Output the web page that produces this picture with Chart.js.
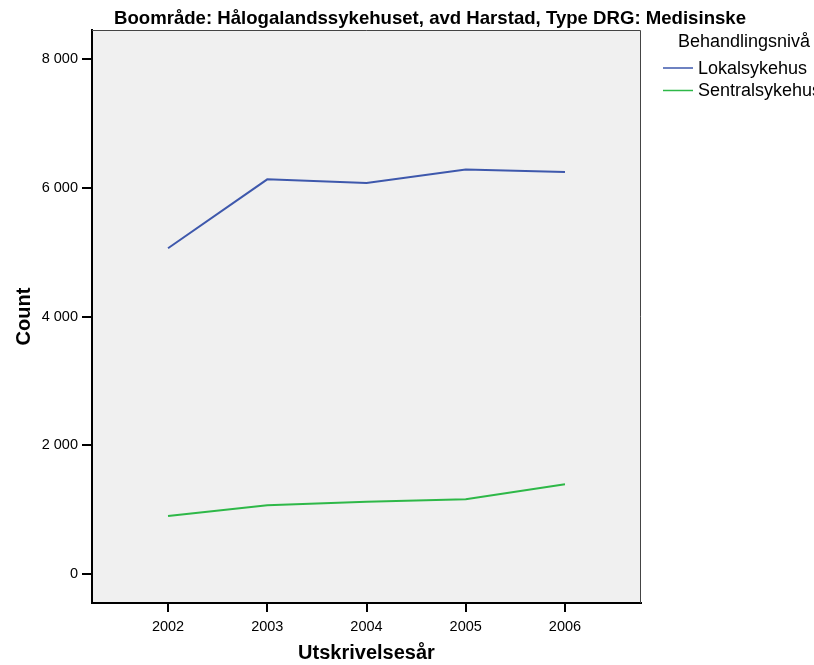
<!DOCTYPE html>
<html>
<head>
<meta charset="utf-8">
<script src="https://cdn.jsdelivr.net/npm/chart.js@4"></script>
<style>
  html, body { margin: 0; padding: 0; background: #fff; overflow: hidden; }
  #wrap { width: 814px; height: 665px; position: relative; }
</style>
</head>
<body>
<div id="wrap"><canvas id="chart"></canvas></div>
<script>
// --- DONNÉES ---
const years = [2002, 2003, 2004, 2005, 2006];
const lokalsykehus = [5060, 6130, 6072, 6285, 6243];
const sentralsykehus = [900, 1070, 1121, 1163, 1395];
const yTicks = [0, 2000, 4000, 6000, 8000];

const chartTitle = 'Boområde: Hålogalandssykehuset, avd Harstad, Type DRG: Medisinske';
const legendTitle = 'Behandlingsnivå';
const seriesNames = ['Lokalsykehus', 'Sentralsykehus'];
const seriesColors = ['#3e58ac', '#2eb848'];

const FONT = '"Liberation Sans", Arial, sans-serif';

function fmt(v) {
  // séparateur de milliers avec espace
  return String(v).replace(/\B(?=(\d{3})+(?!\d))/g, ' ');
}

// fond gris + cadre + titre + légende
const decor = {
  id: 'decor',
  beforeDraw(chart) {
    const { ctx, chartArea: a } = chart;
    ctx.save();
    ctx.fillStyle = '#f0f0f0';
    ctx.fillRect(a.left, a.top, a.right - a.left, a.bottom - a.top);
    ctx.restore();
  },
  afterDraw(chart) {
    const { ctx, chartArea: a } = chart;
    ctx.save();
    ctx.strokeStyle = '#444';
    ctx.lineWidth = 1;
    ctx.beginPath();
    ctx.moveTo(a.left, a.top + 0.5);
    ctx.lineTo(a.right - 0.5, a.top + 0.5);
    ctx.lineTo(a.right - 0.5, a.bottom);
    ctx.stroke();

    // titre
    ctx.fillStyle = '#000';
    ctx.font = 'bold 18.6px ' + FONT;
    ctx.textAlign = 'center';
    ctx.textBaseline = 'middle';
    ctx.fillText(chartTitle, 430, 19);

    // légende (coupée au bord droit comme l'original)
    ctx.font = '18px ' + FONT;
    ctx.textAlign = 'left';
    ctx.fillText(legendTitle, 678, 42);
    seriesNames.forEach((name, i) => {
      const y = 68 + i * 22.5;
      ctx.strokeStyle = seriesColors[i];
      ctx.lineWidth = 1.5;
      ctx.beginPath();
      ctx.moveTo(663, y);
      ctx.lineTo(693, y);
      ctx.stroke();
      ctx.fillStyle = '#000';
      ctx.fillText(name, 698, y + 1);
    });
    ctx.restore();
  }
};

const ctx = document.getElementById('chart').getContext('2d');
new Chart(ctx, {
  type: 'line',
  data: {
    datasets: [
      {
        label: seriesNames[0],
        data: years.map((x, i) => ({ x: x, y: lokalsykehus[i] })),
        borderColor: seriesColors[0],
        borderWidth: 2,
        pointRadius: 0,
        tension: 0
      },
      {
        label: seriesNames[1],
        data: years.map((x, i) => ({ x: x, y: sentralsykehus[i] })),
        borderColor: seriesColors[1],
        borderWidth: 2,
        pointRadius: 0,
        tension: 0
      }
    ]
  },
  options: {
    responsive: true,
    maintainAspectRatio: false,
    animation: false,
    layout: { padding: { left: 0, top: 30, right: 173, bottom: 0 } },
    plugins: {
      legend: { display: false },
      tooltip: { enabled: false }
    },
    scales: {
      x: {
        type: 'linear',
        min: 2001.234,
        max: 2006.766,
        afterBuildTicks: (s) => { s.ticks = years.map(v => ({ value: v })); },
        afterFit: (s) => { s.height = 62; },
        grid: { drawOnChartArea: false, tickLength: 9, color: '#000', lineWidth: 2 },
        border: { color: '#000', width: 2 },
        ticks: {
          color: '#000',
          font: { size: 14.5, family: FONT },
          padding: 6,
          maxRotation: 0,
          callback: (v) => String(v)
        },
        title: {
          display: true,
          text: 'Utskrivelsesår',
          color: '#000',
          font: { size: 20, weight: 'bold', family: FONT },
          padding: { top: 0, bottom: 0 }
        }
      },
      y: {
        min: -450,
        max: 8450,
        afterBuildTicks: (s) => { s.ticks = yTicks.map(v => ({ value: v })); },
        afterFit: (s) => { s.width = 92; },
        grid: { drawOnChartArea: false, tickLength: 10, color: '#000', lineWidth: 2 },
        border: { color: '#000', width: 2 },
        ticks: {
          color: '#000',
          font: { size: 14.5, family: FONT },
          padding: 4,
          callback: (v) => fmt(v)
        },
        title: {
          display: true,
          text: 'Count',
          color: '#000',
          font: { size: 20, weight: 'bold', family: FONT },
          padding: { top: 12, bottom: 0 }
        }
      }
    }
  },
  plugins: [decor]
});
</script>
</body>
</html>
